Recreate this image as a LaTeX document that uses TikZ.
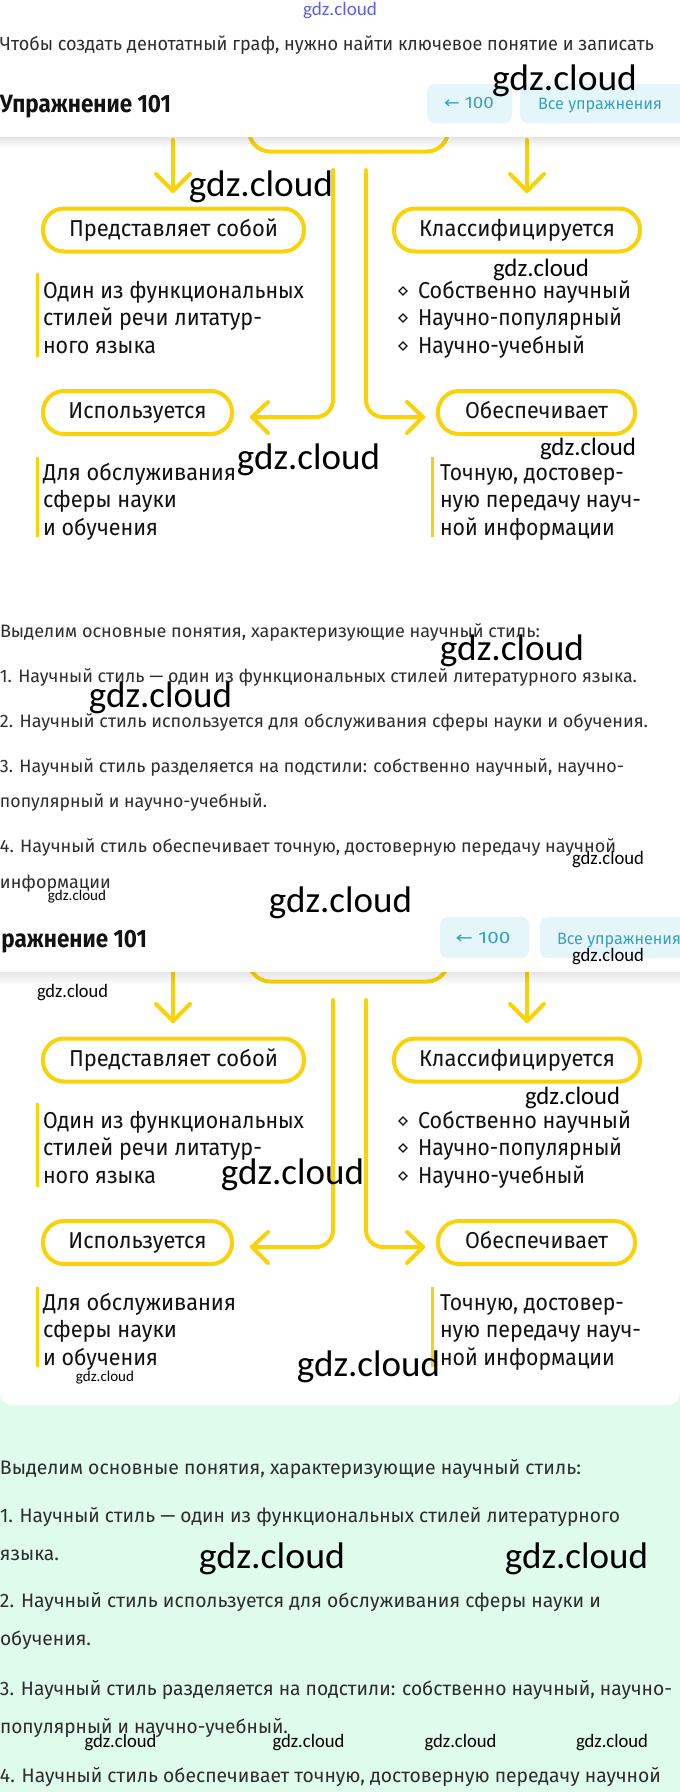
\documentclass[tikz,border=0pt]{standalone}
\usepackage{fontspec}
\usepackage{graphicx}
\usetikzlibrary{fadings}
\setmainfont{Fira Sans}
\newfontfamily\wm{Carlito}
\newfontfamily\arrfont{DejaVu Sans}
\definecolor{yel}{RGB}{250,210,10}
\definecolor{mint}{RGB}{222,251,236}
\definecolor{btn}{RGB}{228,246,250}
\definecolor{tealc}{RGB}{60,160,185}
\definecolor{ink}{RGB}{18,18,18}
\definecolor{gtext}{RGB}{45,45,45}
\definecolor{wblue}{RGB}{95,95,225}
\newcommand\fw[2]{\resizebox{#1pt}{\height}{#2}}
\newcommand\fs[1]{\fontsize{#1}{#1}\selectfont}
\tikzset{
  txt/.style={anchor=base west, inner sep=0pt, outer sep=0pt},
  pill/.style={draw=yel, line width=4pt, fill=white, rounded corners=21pt,
    minimum height=43pt, inner sep=0pt, font=\fs{23}, text=ink,
    text height=16pt, text depth=4pt},
  conn/.style={draw=yel, line width=4pt, line cap=round, line join=round},
  sidebar/.style={draw=yel, line width=3pt},
  dtext/.style={txt, font=\fs{23}, text=ink},
  bul/.style={draw=ink, line width=1.2pt, line join=miter},
  wmark/.style={anchor=center, inner sep=0pt, outer sep=0pt, text=black, font=\wm},
  btnbox/.style={fill=btn, rounded corners=8pt},
  btntext/.style={inner sep=0pt, text=tealc, font=\fs{16.5}},
  s2/.style={txt, font=\fs{18}, text=gtext},
  s4/.style={txt, font=\fs{19.5}, text=gtext},
}
\newcommand\denodiagram{%
  \node[pill, minimum width=199pt] (top) at (348.5,130) {};
  \coordinate (lA) at (173,140); \coordinate (lB) at (173,191);
  \coordinate (rA) at (527,140); \coordinate (rB) at (527,191);
  \coordinate (cLa) at (333,170); \coordinate (cLb) at (333,417); \coordinate (cLt) at (252,417);
  \coordinate (cRa) at (366,170); \coordinate (cRb) at (366,417); \coordinate (cRt) at (423,417);
  \draw[conn] (lA) -- (lB);
  \draw[conn] ([shift={(-17,-17)}]lB) -- (lB) -- ([shift={(17,-17)}]lB);
  \draw[conn] (rA) -- (rB);
  \draw[conn] ([shift={(-17,-17)}]rB) -- (rB) -- ([shift={(17,-17)}]rB);
  \draw[conn, rounded corners=17pt] (cLa) -- (cLb) -- (cLt);
  \draw[conn] ([shift={(16,-15)}]cLt) -- (cLt) -- ([shift={(16,16)}]cLt);
  \draw[conn, rounded corners=17pt] (cRa) -- (cRb) -- (cRt);
  \draw[conn] ([shift={(-16,-15)}]cRt) -- (cRt) -- ([shift={(-16,16)}]cRt);
  \node[pill, minimum width=261pt] (pred) at (173.5,230) {\fw{209}{Представляет собой}};
  \node[pill, minimum width=246pt] (klass) at (517,230) {\fw{196}{Классифицируется}};
  \node[pill, minimum width=189pt] (isp) at (137.5,412.5) {\fw{138}{Используется}};
  \node[pill, minimum width=197pt] (obes) at (536.5,412.5) {\fw{143}{Обеспечивает}};
  % left upper block
  \draw[sidebar] (37,273) -- (37,357);
  \node[dtext] (t1) at (43,298) {\fw{261}{Один из функциональных}};
  \node[dtext] (t2) at (43,325) {\fw{219}{стилей речи литатур-}};
  \node[dtext] (t3) at (43,353) {\fw{113}{ного языка}};
  % right list
  \draw[bul] (403,287) -- (407,291) -- (403,295) -- (399,291) -- cycle;
  \draw[bul] (403,314) -- (407,318) -- (403,322) -- (399,318) -- cycle;
  \draw[bul] (403,342) -- (407,346) -- (403,350) -- (399,346) -- cycle;
  \node[dtext] (k1) at (418,298) {\fw{213}{Собственно научный}};
  \node[dtext] (k2) at (418,325) {\fw{204}{Научно-популярный}};
  \node[dtext] (k3) at (418,353) {\fw{167}{Научно-учебный}};
  % lower blocks
  \draw[sidebar] (37,457) -- (37,537);
  \node[dtext] (u1) at (43,480) {\fw{193}{Для обслуживания}};
  \node[dtext] (u2) at (43,507) {\fw{134}{сферы науки}};
  \node[dtext] (u3) at (43,535) {\fw{115}{и обучения}};
  \draw[sidebar] (432,457) -- (432,537);
  \node[dtext] (o1) at (440,480) {\fw{184}{Точную, достовер-}};
  \node[dtext] (o2) at (440,507) {\fw{201}{ную передачу науч-}};
  \node[dtext] (o3) at (440,535) {\fw{175}{ной информации}};
}
\begin{document}
\begin{tikzpicture}[x=1pt,y=-1pt]
\useasboundingbox (0,0) rectangle (680,1792);
\clip (0,0) rectangle (680,1792);
\fill[white] (0,0) rectangle (680,1792);
\fill[mint] (0,1395) rectangle (680,1792);
\fill[white, rounded corners=12pt] (0,1300) rectangle (680,1405);

% ---------- section 1 ----------
\node[txt, font=\fs{19}, text=gtext] (intro) at (0,50)
  {\fw{654}{Чтобы создать денотатный граф, нужно найти ключевое понятие и записать}};
\begin{scope}[name prefix=a-]
  \denodiagram
\end{scope}
\fill[white] (0,60) rectangle (680,137);
\fill[black, opacity=0.10, path fading=south] (0,137) rectangle (680,148);
\node[txt, font=\fs{25}\bfseries, text=ink] (title1) at (0,112) {\fw{171}{Упражнение 101}};
\fill[btnbox] (427,84) rectangle (512,123);
\node[btntext] (back1) at (469,103) {\fw{50}{{\arrfont ←}\ 100}};
\fill[btnbox] (520,84) rectangle (692,123);
\node[btntext, txt] (all1) at (538,109) {\fw{124}{Все упражнения}};

% ---------- section 2 ----------
\node[s2] (p0) at (0,637) {\fw{540}{Выделим основные понятия, характеризующие научный стиль:}};
\node[s2] (p1) at (0,682) {\fw{637}{1. Научный стиль — один из функциональных стилей литературного языка.}};
\node[s2] (p2) at (0,727) {\fw{648}{2. Научный стиль используется для обслуживания сферы науки и обучения.}};
\node[s2] (p3) at (0,772) {\fw{624}{3. Научный стиль разделяется на подстили: собственно научный, научно-}};
\node[s2] (p3b) at (0,807) {\fw{267}{популярный и научно-учебный.}};
\node[s2] (p4) at (0,852) {\fw{616}{4. Научный стиль обеспечивает точную, достоверную передачу научной}};
\node[s2] (p4b) at (0,888) {\fw{111}{информации}};

% ---------- section 3 ----------
\begin{scope}[yshift=-830pt, name prefix=b-]
  \denodiagram
\end{scope}
\fill[white] (0,900) rectangle (680,972);
\fill[black, opacity=0.10, path fading=south] (0,972) rectangle (680,985);
\node[txt, font=\fs{25}\bfseries, text=ink] (title2) at (-24,947) {\fw{171}{Упражнение 101}};
\fill[btnbox] (440,917) rectangle (529,958);
\node[btntext] (back2) at (483,938) {\fw{55}{{\arrfont ←}\ 100}};
\fill[btnbox] (540,917) rectangle (700,958);
\node[btntext, txt] (all2) at (557,944) {\fw{124}{Все упражнения}};

% ---------- section 4 ----------
\node[s4] (q0) at (0,1474) {\fw{581}{Выделим основные понятия, характеризующие научный стиль:}};
\node[s4] (q1) at (0,1522) {\fw{620}{1. Научный стиль — один из функциональных стилей литературного}};
\node[s4] (q1b) at (0,1560) {\fw{59}{языка.}};
\node[s4] (q2) at (0,1607) {\fw{601}{2. Научный стиль используется для обслуживания сферы науки и}};
\node[s4] (q2b) at (0,1645) {\fw{91}{обучения.}};
\node[s4] (q3) at (0,1695) {\fw{672}{3. Научный стиль разделяется на подстили: собственно научный, научно-}};
\node[s4] (q3b) at (0,1733) {\fw{288}{популярный и научно-учебный.}};
\node[s4] (q4) at (0,1782) {\fw{661}{4. Научный стиль обеспечивает точную, достоверную передачу научной}};

% ---------- watermarks ----------
\node[wmark, text=wblue, font=\wm\fs{19}] (w0) at (340,11) {\fw{74}{gdz.cloud}};
\node[wmark, font=\wm\fs{37}] (w1) at (564.5,81) {\fw{145}{gdz.cloud}};
\node[wmark, font=\wm\fs{37}] (w2) at (261,187) {\fw{144}{gdz.cloud}};
\node[wmark, font=\wm\fs{25}] (w3) at (541,270) {\fw{96}{gdz.cloud}};
\node[wmark, font=\wm\fs{37}] (w4) at (308.5,460) {\fw{143}{gdz.cloud}};
\node[wmark, font=\wm\fs{25}] (w5) at (588,449) {\fw{96}{gdz.cloud}};
\node[wmark, font=\wm\fs{37}] (w6) at (512,651) {\fw{144}{gdz.cloud}};
\node[wmark, font=\wm\fs{37}] (w7) at (160.5,698) {\fw{143}{gdz.cloud}};
\node[wmark, font=\wm\fs{19}] (w8) at (608,860) {\fw{72}{gdz.cloud}};
\node[wmark, font=\wm\fs{15}] (w9) at (77,897) {\fw{58}{gdz.cloud}};
\node[wmark, font=\wm\fs{37}] (w10) at (340.5,903) {\fw{143}{gdz.cloud}};
\node[wmark, font=\wm\fs{19}] (w11) at (608,957) {\fw{72}{gdz.cloud}};
\node[wmark, font=\wm\fs{19}] (w12) at (72.5,993) {\fw{71}{gdz.cloud}};
\node[wmark, font=\wm\fs{25}] (w13) at (572.5,1098) {\fw{95}{gdz.cloud}};
\node[wmark, font=\wm\fs{37}] (w14) at (292.5,1175) {\fw{143}{gdz.cloud}};
\node[wmark, font=\wm\fs{15}] (w15) at (105,1378) {\fw{58}{gdz.cloud}};
\node[wmark, font=\wm\fs{37}] (w16) at (368.5,1367) {\fw{143}{gdz.cloud}};
\node[wmark, font=\wm\fs{37}] (w17) at (272,1559) {\fw{146}{gdz.cloud}};
\node[wmark, font=\wm\fs{37}] (w18) at (576.5,1559) {\fw{143}{gdz.cloud}};
\node[wmark, font=\wm\fs{19}] (w19) at (120.5,1743) {\fw{72}{gdz.cloud}};
\node[wmark, font=\wm\fs{19}] (w20) at (308.5,1743) {\fw{72}{gdz.cloud}};
\node[wmark, font=\wm\fs{19}] (w21) at (460.5,1743) {\fw{72}{gdz.cloud}};
\node[wmark, font=\wm\fs{19}] (w22) at (612,1743) {\fw{72}{gdz.cloud}};
\end{tikzpicture}
\end{document}
